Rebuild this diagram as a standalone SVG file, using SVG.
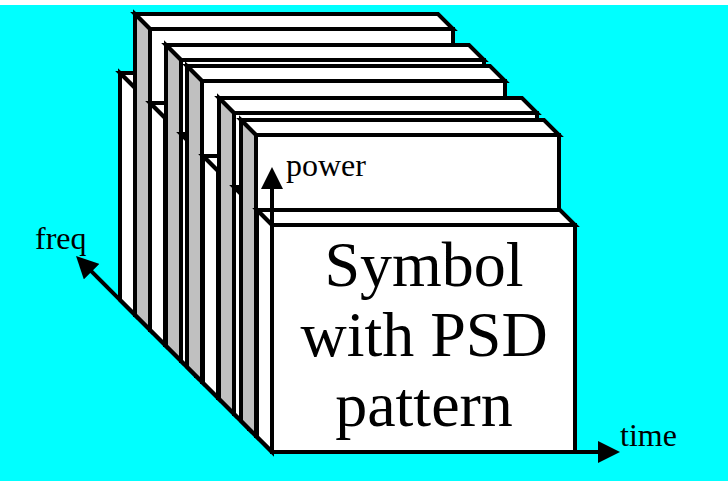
<svg xmlns="http://www.w3.org/2000/svg" width="728" height="481" viewBox="0 0 728 481">
<style>
.f{fill:#ffffff;stroke:#000000;stroke-width:4;stroke-linejoin:miter}
.g{fill:#c0c0c0;stroke:#000000;stroke-width:4;stroke-linejoin:miter}
.ax{stroke:#000000;stroke-width:4;fill:none}
.lbl{font-family:"Liberation Serif","Times New Roman",serif;font-size:32px;fill:#000000}
.big{font-family:"Liberation Serif","Times New Roman",serif;font-size:64px;fill:#000000;text-anchor:middle}
</style>
<defs>
<marker id="ah" viewBox="0 0 22 22" refX="14" refY="11" markerWidth="22" markerHeight="22" markerUnits="userSpaceOnUse" orient="auto">
<path d="M0,0 L22,11 L0,22 z" fill="#000000"/>
</marker>
</defs>
<rect x="0" y="0" width="728" height="481" fill="#ffffff"/>
<rect x="0" y="5" width="728" height="476" fill="#00ffff"/>
<g id="box0">
<polygon class="f" points="120,73 423,73 438,88 135,88"/>
<polygon class="f" points="120,73 135,88 135,315 120,300"/>
<rect class="f" x="135" y="88" width="303" height="227"/>
</g>
<g id="box1">
<polygon class="f" points="135,14 438,14 453,29 150,29"/>
<polygon class="g" points="135,14 150,29 150,330 135,315"/>
<rect class="f" x="150" y="29" width="303" height="301"/>
</g>
<g id="box1b">
<polygon class="f" points="150,103 453,103 468,118 165,118"/>
<polygon class="f" points="150,103 165,118 165,345 150,330"/>
<rect class="f" x="165" y="118" width="303" height="227"/>
</g>
<g id="box2">
<polygon class="f" points="166,45 469,45 484,60 181,60"/>
<polygon class="g" points="166,45 181,60 181,361 166,346"/>
<rect class="f" x="181" y="60" width="303" height="301"/>
</g>
<g id="box2b">
<polygon class="f" points="181,134 484,134 499,149 196,149"/>
<polygon class="f" points="181,134 196,149 196,376 181,361"/>
<rect class="f" x="196" y="149" width="303" height="227"/>
</g>
<g id="box3">
<polygon class="f" points="187,66 490,66 505,81 202,81"/>
<polygon class="g" points="187,66 202,81 202,382 187,367"/>
<rect class="f" x="202" y="81" width="303" height="301"/>
</g>
<g id="box3b">
<polygon class="f" points="203,156 506,156 521,171 218,171"/>
<polygon class="f" points="203,156 218,171 218,398 203,383"/>
<rect class="f" x="218" y="171" width="303" height="227"/>
</g>
<g id="box4">
<polygon class="f" points="219,98 522,98 537,113 234,113"/>
<polygon class="g" points="219,98 234,113 234,414 219,399"/>
<rect class="f" x="234" y="113" width="303" height="301"/>
</g>
<g id="box4b">
<polygon class="f" points="234,187 537,187 552,202 249,202"/>
<polygon class="f" points="234,187 249,202 249,429 234,414"/>
<rect class="f" x="249" y="202" width="303" height="227"/>
</g>
<g id="box5">
<polygon class="f" points="241,120 544,120 559,135 256,135"/>
<polygon class="g" points="241,120 256,135 256,436 241,421"/>
<rect class="f" x="256" y="135" width="303" height="301"/>
</g>
<g id="box6">
<polygon class="f" points="257,210 560,210 575,225 272,225"/>
<polygon class="f" points="257,210 272,225 272,452 257,437"/>
<rect class="f" x="272" y="225" width="303" height="227"/>
<text class="big" x="424" y="286">Symbol</text>
<text class="big" x="424" y="356">with PSD</text>
<text class="big" x="424" y="426">pattern</text>
</g>
<g id="connectors">
<line class="ax" x1="272" y1="452" x2="81.7" y2="261.7" marker-end="url(#ah)"/>
<line class="ax" x1="272" y1="452" x2="612" y2="452" marker-end="url(#ah)"/>
<line class="ax" x1="272" y1="452" x2="272" y2="175" marker-end="url(#ah)"/>
</g>
<text class="lbl" x="35" y="249">freq</text>
<text class="lbl" x="620" y="446">time</text>
<text class="lbl" x="286" y="176">power</text>
</svg>
